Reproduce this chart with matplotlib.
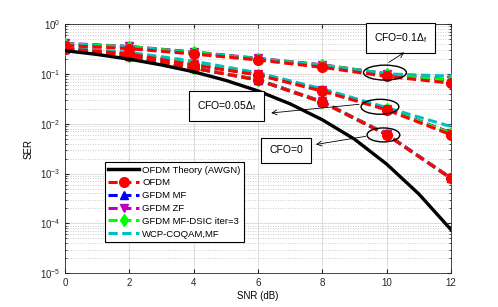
import matplotlib
matplotlib.use("Agg")
import matplotlib.pyplot as plt
from matplotlib.patches import Ellipse
from matplotlib.lines import Line2D

plt.rcParams['font.family'] = ['Liberation Sans', 'DejaVu Sans']
plt.rcParams['mathtext.fontset'] = 'custom'
plt.rcParams['mathtext.rm'] = 'Liberation Sans'
plt.rcParams['mathtext.it'] = 'Liberation Sans:italic'
plt.rcParams['font.size'] = 7

# theory curve (OFDM over AWGN)
snr_theory = [0, 1, 2, 3, 4, 5, 6, 7, 8, 9, 10, 11, 12]
ser_theory = [0.292, 0.245, 0.197, 0.151, 0.110, 0.074, 0.0455, 0.025,
              0.012, 0.0049, 0.00155, 0.00039, 7.5e-5]

snr = [0, 2, 4, 6, 8, 10, 12]

# CFO = 0
ofdm_0 = [0.31, 0.225, 0.13, 0.075, 0.027, 0.0060, 0.00080]
gfdm_mf_0 = [0.31, 0.225, 0.13, 0.076, 0.027, 0.0061, 0.00081]
gfdm_zf_0 = [0.315, 0.23, 0.132, 0.077, 0.028, 0.0062, 0.00082]
gfdm_dsic_0 = [0.31, 0.226, 0.131, 0.076, 0.027, 0.0061, 0.00080]
wcp_0 = [0.31, 0.225, 0.13, 0.075, 0.027, 0.0060, 0.00080]

# CFO = 0.05
ofdm_05 = [0.32, 0.25, 0.15, 0.095, 0.045, 0.019, 0.0060]
gfdm_mf_05 = [0.33, 0.255, 0.155, 0.097, 0.047, 0.020, 0.0065]
gfdm_zf_05 = [0.335, 0.26, 0.157, 0.098, 0.047, 0.020, 0.0066]
gfdm_dsic_05 = [0.33, 0.255, 0.155, 0.097, 0.046, 0.020, 0.0064]
wcp_05 = [0.33, 0.27, 0.18, 0.105, 0.050, 0.021, 0.0088]

# CFO = 0.1
ofdm_1 = [0.37, 0.32, 0.25, 0.19, 0.135, 0.089, 0.065]
gfdm_mf_1 = [0.40, 0.35, 0.27, 0.20, 0.15, 0.10, 0.074]
gfdm_zf_1 = [0.41, 0.355, 0.275, 0.205, 0.152, 0.10, 0.075]
gfdm_dsic_1 = [0.40, 0.35, 0.27, 0.20, 0.15, 0.10, 0.074]
wcp_1 = [0.38, 0.34, 0.26, 0.20, 0.145, 0.10, 0.090]

fig = plt.figure(figsize=(4.98, 3.07), dpi=100)
ax = fig.add_axes([0.1305, 0.1098, 0.7751, 0.812])

lw = 2.2
ds = (3, 1.5)
ax.plot(snr_theory, ser_theory, color='k', lw=2.4, zorder=5)

groups = [
    (ofdm_0, gfdm_mf_0, gfdm_zf_0, gfdm_dsic_0, wcp_0),
    (ofdm_05, gfdm_mf_05, gfdm_zf_05, gfdm_dsic_05, wcp_05),
    (ofdm_1, gfdm_mf_1, gfdm_zf_1, gfdm_dsic_1, wcp_1),
]
for ofdm, mf, zf, dsic, wcp in groups:
    ax.plot(snr, mf, color='b', lw=lw, dashes=ds, marker='^', ms=6, zorder=3)
    ax.plot(snr, zf, color='m', lw=lw, dashes=ds, marker='v', ms=6, zorder=3)
    ax.plot(snr, dsic, color='#00ff00', lw=lw, dashes=ds, marker='d', ms=6, zorder=3.5)
    ax.plot(snr, wcp, color='c', lw=lw, dashes=ds, zorder=4)
    ax.plot(snr, ofdm, color='r', lw=lw, dashes=ds, marker='o', ms=7, zorder=4.5)

ax.set_yscale('log')
ax.set_xlim(0, 12)
ax.set_ylim(1e-5, 1)
ax.set_xticks([0, 2, 4, 6, 8, 10, 12])
ax.set_xlabel('SNR (dB)', labelpad=2)
ax.set_ylabel('SER', labelpad=4)
ax.grid(True, which='major', color='#dddddd', lw=0.7)
ax.grid(True, which='minor', axis='y', color='#bbbbbb', lw=0.6, ls=(0, (1, 2)))
ax.tick_params(which='both', direction='in', top=True, right=True, colors='#262626', labelsize=7)
ax.tick_params(which='major', length=3)
ax.tick_params(which='minor', length=1.5)
for s in ax.spines.values():
    s.set_color('#262626')
    s.set_linewidth(0.6)

handles = [
    Line2D([], [], color='k', lw=2.5),
    Line2D([], [], color='r', lw=lw, dashes=ds, marker='o', ms=7),
    Line2D([], [], color='b', lw=lw, dashes=ds, marker='^', ms=6),
    Line2D([], [], color='m', lw=lw, dashes=ds, marker='v', ms=6),
    Line2D([], [], color='#00ff00', lw=lw, dashes=ds, marker='d', ms=6),
    Line2D([], [], color='c', lw=lw, dashes=ds),
]
labels = ['OFDM Theory (AWGN)', 'OFDM', 'GFDM MF', 'GFDM ZF',
          'GFDM MF-DSIC iter=3', 'WCP-COQAM,MF']
leg = ax.legend(handles, labels, loc='lower left', bbox_to_anchor=(0.104, 0.126),
                fontsize=6.8, handlelength=3.2, handletextpad=0.4, labelspacing=0.4,
                borderpad=0.35, fancybox=False, framealpha=1, borderaxespad=0)
leg.get_frame().set_edgecolor('k')
leg.get_frame().set_linewidth(0.8)
leg.set_zorder(10)

# ellipses round the CFO groups
for (cx, cy, w, h) in [(0.829, 0.805, 0.111, 0.060),
                       (0.816, 0.668, 0.098, 0.060),
                       (0.825, 0.555, 0.085, 0.056)]:
    ax.add_patch(Ellipse((cx, cy), w, h, transform=ax.transAxes, fill=False,
                         ec='k', lw=1.0, zorder=8))

bbox = dict(boxstyle='square,pad=0.75', fc='w', ec='k', lw=0.8)
notes = [
    ('CFO=0.1$\\Delta_{\\rm f}$', (0.870, 0.944), (0.833, 0.840), (0.885, 0.892)),
    ('CFO=0.05$\\Delta_{\\rm f}$', (0.418, 0.671), (0.769, 0.679), (0.527, 0.642)),
    ('CFO=0', (0.573, 0.493), (0.786, 0.551), (0.643, 0.515)),
]
for txt, pos, a0, a1 in notes:
    ax.text(pos[0], pos[1], txt, transform=ax.transAxes, ha='center', va='center',
            fontsize=7.5, bbox=bbox, zorder=9)
    ax.annotate('', xy=a1, xycoords='axes fraction', xytext=a0, textcoords='axes fraction',
                arrowprops=dict(arrowstyle='->,head_length=0.5,head_width=0.25',
                                color='k', lw=0.6), zorder=9)

fig.savefig('out.png', dpi=100)
